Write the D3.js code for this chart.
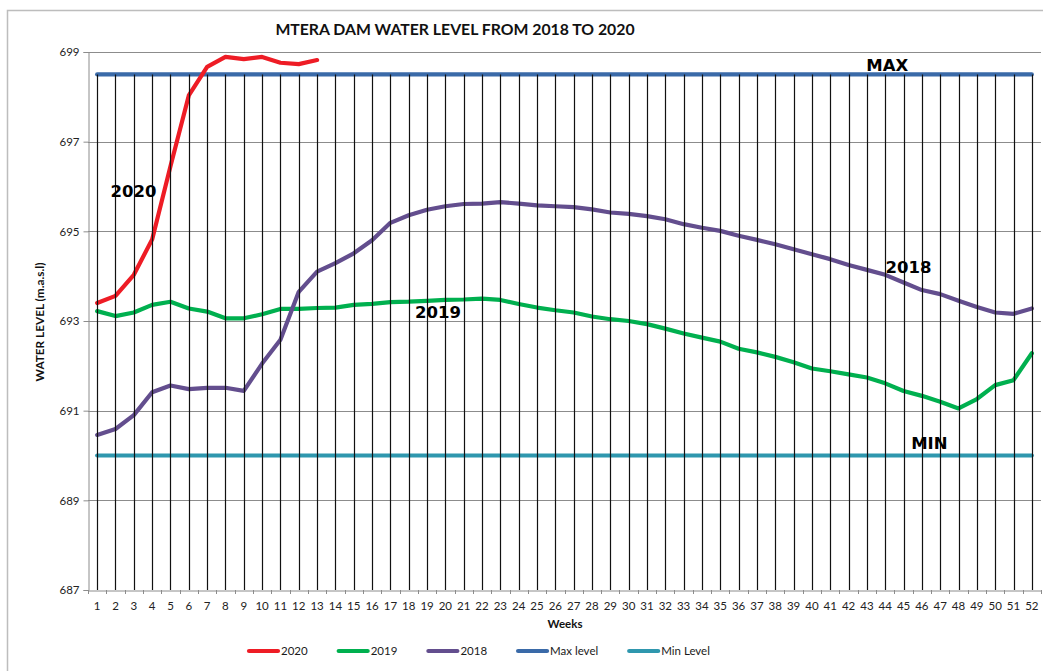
<!DOCTYPE html>
<html>
<head>
<meta charset="utf-8">
<script src="https://cdn.jsdelivr.net/npm/d3@7"></script>
<style>
  html, body { margin: 0; padding: 0; background: #fff; }
  svg { display: block; }
</style>
</head>
<body>
<svg id="chart" width="1043" height="671"></svg>
<script>
const weeks = d3.range(1, 53);
const yTicks = [687, 689, 691, 693, 695, 697, 699];

const level2020 = [693.4, 693.56, 694.03, 694.82, 696.45, 698.03, 698.67, 698.89, 698.84, 698.89, 698.76, 698.73, 698.82];

const level2019 = [693.22, 693.11, 693.19, 693.36, 693.43, 693.28, 693.21, 693.06, 693.06, 693.15,
  693.27, 693.27, 693.29, 693.3, 693.36, 693.38, 693.42, 693.43, 693.45, 693.47,
  693.48, 693.5, 693.47, 693.38, 693.3, 693.24, 693.19, 693.1, 693.04, 693.0,
  692.93, 692.83, 692.72, 692.63, 692.54, 692.38, 692.3, 692.2, 692.08, 691.94,
  691.88, 691.81, 691.74, 691.61, 691.44, 691.33, 691.2, 691.05, 691.26, 691.57,
  691.68, 692.28];

const level2018 = [690.46, 690.59, 690.9, 691.41, 691.56, 691.48, 691.51, 691.51, 691.44, 692.05,
  692.58, 693.65, 694.1, 694.29, 694.51, 694.8, 695.19, 695.36, 695.48, 695.56,
  695.61, 695.62, 695.65, 695.62, 695.58, 695.56, 695.54, 695.49, 695.42, 695.39,
  695.34, 695.27, 695.16, 695.08, 695.01, 694.9, 694.81, 694.71, 694.6, 694.49,
  694.38, 694.25, 694.14, 694.03, 693.86, 693.69, 693.6, 693.45, 693.31, 693.19,
  693.16, 693.28];

const maxLevel = weeks.map(() => 698.5);
const minLevel = weeks.map(() => 690);

const seriesNames = ["2020", "2019", "2018", "Max level", "Min Level"];
const seriesColors = ["#ee1c25", "#00b04f", "#634e8e", "#3a6aa8", "#2f97ae"];
const seriesData = [level2020, level2019, level2018, maxLevel, minLevel];

const annotations = [
  { text: "2020", week: 2, value: 695.77, dx: -5 },
  { text: "2019", week: 19, value: 693.07, dx: -12 },
  { text: "2018", week: 45, value: 694.07, dx: -18 },
  { text: "MAX", week: 44, value: 698.58, dx: -19 },
  { text: "MIN", week: 47, value: 690.14, dx: -29 }
];

const svg = d3.select("#chart");
const sans = "Lato, 'Open Sans', sans-serif";

// outer frame
svg.append("rect").attr("x", 7.5).attr("y", 10.5).attr("width", 1100).attr("height", 700)
  .attr("fill", "none").attr("stroke", "#bdbdbd").attr("stroke-width", 1.5);

const plot = { left: 88, right: 1041, top: 52, bottom: 590 };

const x = d3.scaleBand().domain(weeks).range([plot.left, plot.right]).paddingInner(0).paddingOuter(0);
const cx = w => x(w) + x.bandwidth() / 2;
const y = d3.scaleLinear().domain([687, 699]).range([plot.bottom, plot.top]);

// title
svg.append("text").attr("x", 455).attr("y", 35).attr("text-anchor", "middle")
  .style("font-family", sans).style("font-weight", 700).style("font-size", "15.8px").attr("fill", "#111")
  .text("MTERA DAM WATER LEVEL FROM 2018 TO 2020");

// gridlines
svg.append("g").selectAll("line").data(yTicks.filter(t => t !== 687)).join("line")
  .attr("x1", plot.left).attr("x2", plot.right)
  .attr("y1", d => Math.round(y(d)) + 0.5).attr("y2", d => Math.round(y(d)) + 0.5)
  .attr("stroke", "#8c8c8c").attr("stroke-width", 1);

// y axis
const yAxis = svg.append("g").attr("transform", `translate(${plot.left + 0.5},0)`)
  .call(d3.axisLeft(y).tickValues(yTicks).tickSize(5).tickPadding(4).tickFormat(d3.format("d")));
yAxis.select(".domain").attr("stroke", "#8c8c8c");
yAxis.selectAll(".tick line").attr("stroke", "#8c8c8c");
yAxis.selectAll(".tick text").style("font-family", sans).style("font-size", "11.5px").attr("fill", "#222");

// x axis
const xAxis = svg.append("g").attr("transform", `translate(0,${plot.bottom + 0.5})`)
  .call(d3.axisBottom(x).tickSize(0).tickPadding(11));
xAxis.select(".domain").attr("stroke", "#8c8c8c");
xAxis.selectAll(".tick text").style("font-family", sans).style("font-size", "11.5px").attr("fill", "#222");
svg.append("g").selectAll("line").data(d3.range(0, weeks.length + 1)).join("line")
  .attr("x1", i => Math.round(plot.left + i * x.bandwidth()) + 0.5)
  .attr("x2", i => Math.round(plot.left + i * x.bandwidth()) + 0.5)
  .attr("y1", plot.bottom).attr("y2", plot.bottom + 4)
  .attr("stroke", "#8c8c8c");

// axis titles
svg.append("text").attr("transform", `translate(44,322) rotate(-90)`).attr("text-anchor", "middle")
  .style("font-family", sans).style("font-weight", 700).style("font-size", "11.8px").attr("fill", "#111")
  .text("WATER LEVEL (m.a.s.l)");
svg.append("text").attr("x", 565).attr("y", 628).attr("text-anchor", "middle")
  .style("font-family", sans).style("font-weight", 700).style("font-size", "11.5px").attr("fill", "#111")
  .text("Weeks");

// series
const line = d3.line().x((d, i) => cx(weeks[i])).y(d => y(d));
const drawOrder = [3, 4, 1, 2, 0];
svg.append("g").selectAll("path").data(drawOrder).join("path")
  .attr("d", k => line(seriesData[k]))
  .attr("fill", "none").attr("stroke", k => seriesColors[k])
  .attr("stroke-width", 4.2).attr("stroke-linejoin", "round").attr("stroke-linecap", "round");

// drop lines
svg.append("g").selectAll("line").data(weeks).join("line")
  .attr("x1", w => Math.round(cx(w)) + 0.5).attr("x2", w => Math.round(cx(w)) + 0.5)
  .attr("y1", (w, i) => y(maxLevel[i])).attr("y2", y(687))
  .attr("stroke", "#111").attr("stroke-width", 1.2);

// annotations
svg.append("g").selectAll("text").data(annotations).join("text")
  .attr("x", d => cx(d.week) + d.dx).attr("y", d => y(d.value))
  .style("font-family", "'DejaVu Sans', sans-serif").style("font-weight", 700)
  .style("font-size", "16.5px").attr("fill", "#000").text(d => d.text);

// legend
const legend = svg.append("g");
let lx = 247;
seriesNames.forEach((name, k) => {
  legend.append("line").attr("x1", lx + 2).attr("x2", lx + 31).attr("y1", 651).attr("y2", 651)
    .attr("stroke", seriesColors[k]).attr("stroke-width", 4.2).attr("stroke-linecap", "round");
  const t = legend.append("text").attr("x", lx + 34).attr("y", 655)
    .style("font-family", sans).style("font-size", "11.5px").attr("fill", "#1a1a1a").text(name);
  lx += 34 + t.node().getComputedTextLength() + 29;
});
</script>
</body>
</html>
